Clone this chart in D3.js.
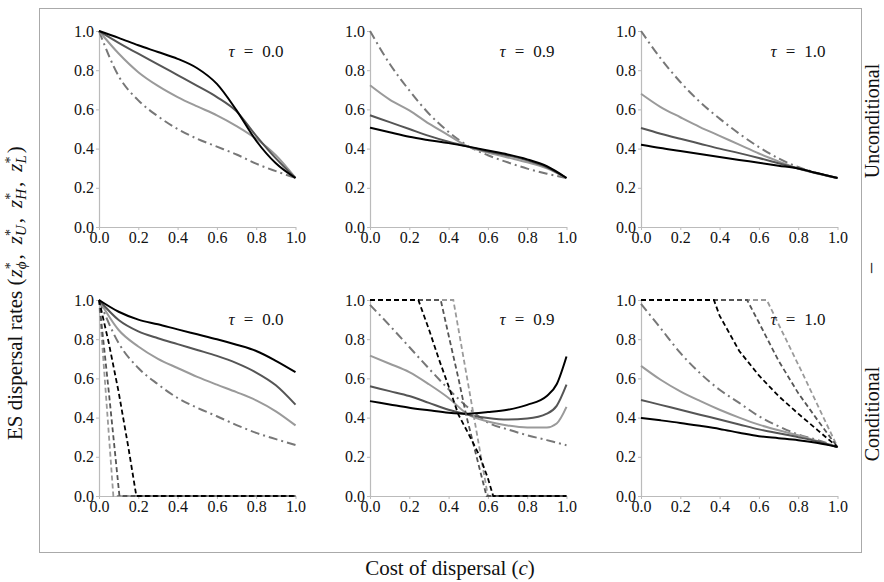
<!DOCTYPE html>
<html><head><meta charset="utf-8">
<script src="https://cdn.jsdelivr.net/npm/d3@7"></script>
<style>
body{margin:0;background:#fff;}
svg{display:block;}
</style>
</head><body>
<svg id="chart" width="884" height="582"></svg>
<script>
// ---------- data ----------
const cGrid = [0, 0.1, 0.2, 0.3, 0.4, 0.5, 0.6, 0.7, 0.8, 0.9, 1.0];
const cGridFine = [0, 0.1, 0.2, 0.3, 0.4, 0.5, 0.6, 0.7, 0.8, 0.9, 0.95, 1.0];
const tickValues = [0, 0.2, 0.4, 0.6, 0.8, 1.0];
const tauLabels = ["0.0", "0.9", "1.0"];
const rowLabels = ["Unconditional", "Conditional"];

// Unconditional, tau = 0.0
const u00Black = [1.0, 0.965, 0.927, 0.893, 0.858, 0.81, 0.73, 0.595, 0.44, 0.325, 0.25];
const u00Dark  = [1.0, 0.94, 0.884, 0.83, 0.775, 0.72, 0.663, 0.59, 0.465, 0.35, 0.25];
const u00Light = [1.0, 0.885, 0.79, 0.72, 0.663, 0.615, 0.57, 0.515, 0.45, 0.366, 0.25];
const u00Phi   = [1.0, 0.77, 0.646, 0.565, 0.50, 0.45, 0.41, 0.37, 0.323, 0.285, 0.25];
// Unconditional, tau = 0.9
const u09Black = [0.507, 0.483, 0.46, 0.443, 0.428, 0.41, 0.39, 0.37, 0.345, 0.31, 0.25];
const u09Dark  = [0.57, 0.535, 0.50, 0.465, 0.435, 0.41, 0.385, 0.365, 0.34, 0.305, 0.25];
const u09Light = [0.723, 0.65, 0.595, 0.527, 0.468, 0.41, 0.38, 0.355, 0.33, 0.30, 0.25];
const u09Phi   = [1.0, 0.833, 0.697, 0.578, 0.485, 0.413, 0.366, 0.33, 0.298, 0.272, 0.25];
// Unconditional, tau = 1.0
const u10Black = [0.42, 0.403, 0.388, 0.372, 0.357, 0.342, 0.328, 0.313, 0.298, 0.274, 0.25];
const u10Dark  = [0.505, 0.476, 0.45, 0.425, 0.40, 0.377, 0.352, 0.325, 0.298, 0.273, 0.25];
const u10Light = [0.68, 0.612, 0.56, 0.51, 0.465, 0.42, 0.375, 0.335, 0.298, 0.272, 0.25];
const u10Phi   = [1.0, 0.86, 0.74, 0.638, 0.553, 0.476, 0.408, 0.35, 0.306, 0.275, 0.25];
// Conditional, tau = 0.0
const c00Black = [1.0, 0.94, 0.90, 0.876, 0.85, 0.825, 0.80, 0.772, 0.74, 0.69, 0.632];
const c00Dark  = [1.0, 0.898, 0.84, 0.805, 0.775, 0.745, 0.715, 0.678, 0.63, 0.565, 0.466];
const c00Light = [1.0, 0.847, 0.763, 0.70, 0.653, 0.608, 0.568, 0.53, 0.488, 0.432, 0.36];
const c00Phi   = [1.0, 0.78, 0.653, 0.57, 0.50, 0.45, 0.407, 0.362, 0.322, 0.29, 0.26];
const c00BlackDashC = [0, 0.05, 0.1, 0.15, 0.19, 1.0];
const c00BlackDashV = [1.0, 0.78, 0.53, 0.245, 0, 0];
const c00DarkDashC  = [0, 0.05, 0.104, 1.0];
const c00DarkDashV  = [1.0, 0.53, 0, 0];
const c00LightDashC = [0, 0.073, 1.0];
const c00LightDashV = [1.0, 0, 0];
// Conditional, tau = 0.9 (fine grid)
const c09Black = [0.484, 0.467, 0.45, 0.437, 0.425, 0.42, 0.428, 0.44, 0.465, 0.51, 0.57, 0.712];
const c09Dark  = [0.56, 0.535, 0.51, 0.475, 0.44, 0.415, 0.398, 0.39, 0.395, 0.42, 0.46, 0.568];
const c09Light = [0.716, 0.675, 0.632, 0.57, 0.50, 0.415, 0.38, 0.36, 0.35, 0.35, 0.37, 0.455];
const c09Phi   = [0.975, 0.87, 0.76, 0.65, 0.545, 0.45, 0.375, 0.34, 0.31, 0.285, 0.272, 0.259];
const c09BlackDashC = [0, 0.246, 0.3, 0.35, 0.4, 0.45, 0.5, 0.56, 0.6, 0.627, 1.0];
const c09BlackDashV = [1.0, 1.0, 0.85, 0.70, 0.56, 0.415, 0.32, 0.2, 0.09, 0, 0];
const c09DarkDashC  = [0, 0.36, 0.4, 0.45, 0.49, 0.55, 0.593, 1.0];
const c09DarkDashV  = [1.0, 1.0, 0.82, 0.6, 0.41, 0.17, 0, 0];
const c09LightDashC = [0, 0.424, 0.6, 1.0];
const c09LightDashV = [1.0, 1.0, 0, 0];
// Conditional, tau = 1.0
const c10Black = [0.398, 0.386, 0.373, 0.358, 0.342, 0.323, 0.305, 0.295, 0.285, 0.27, 0.25];
const c10Dark  = [0.49, 0.465, 0.44, 0.415, 0.39, 0.365, 0.34, 0.32, 0.30, 0.278, 0.25];
const c10Light = [0.664, 0.593, 0.534, 0.485, 0.44, 0.40, 0.364, 0.335, 0.31, 0.28, 0.25];
const c10Phi   = [0.98, 0.856, 0.73, 0.627, 0.542, 0.475, 0.407, 0.356, 0.314, 0.285, 0.25];
const c10BlackDashC = [0, 0.371, 0.4, 0.5, 0.6, 0.7, 0.8, 0.9, 1.0];
const c10BlackDashV = [1.0, 1.0, 0.92, 0.74, 0.615, 0.51, 0.42, 0.335, 0.25];
const c10DarkDashC  = [0, 0.54, 0.6, 0.7, 0.8, 0.9, 1.0];
const c10DarkDashV  = [1.0, 1.0, 0.885, 0.69, 0.525, 0.385, 0.25];
const c10LightDashC = [0, 0.64, 0.82, 1.0];
const c10LightDashV = [1.0, 1.0, 0.63, 0.25];

// ---------- assemble panels ----------
const panels = [
  {row:0, col:0, c:cGrid, black:u00Black, dark:u00Dark, light:u00Light, phi:u00Phi, dashed:[]},
  {row:0, col:1, c:cGrid, black:u09Black, dark:u09Dark, light:u09Light, phi:u09Phi, dashed:[]},
  {row:0, col:2, c:cGrid, black:u10Black, dark:u10Dark, light:u10Light, phi:u10Phi, dashed:[]},
  {row:1, col:0, c:cGrid, black:c00Black, dark:c00Dark, light:c00Light, phi:c00Phi,
    dashed:[["light", c00LightDashC, c00LightDashV], ["dark", c00DarkDashC, c00DarkDashV], ["black", c00BlackDashC, c00BlackDashV]]},
  {row:1, col:1, c:cGridFine, black:c09Black, dark:c09Dark, light:c09Light, phi:c09Phi,
    dashed:[["light", c09LightDashC, c09LightDashV], ["dark", c09DarkDashC, c09DarkDashV], ["black", c09BlackDashC, c09BlackDashV]]},
  {row:1, col:2, c:cGrid, black:c10Black, dark:c10Dark, light:c10Light, phi:c10Phi,
    dashed:[["light", c10LightDashC, c10LightDashV], ["dark", c10DarkDashC, c10DarkDashV], ["black", c10BlackDashC, c10BlackDashV]]}
];

// ---------- drawing ----------
const FONT = "'Liberation Serif', 'Times New Roman', Times, serif";
const svg = d3.select("#chart").attr("font-family", FONT);
const colX = [99, 370, 641], rowY = [31, 300];
const pw = 196.5, ph = 196;
const colors = {black:"#000000", dark:"#555555", light:"#9a9a9a", phi:"#777777"};

svg.append("rect").attr("x", 39.5).attr("y", 8.5).attr("width", 822).attr("height", 544)
  .attr("fill", "none").attr("stroke", "#aaaaaa").attr("stroke-width", 1);

panels.forEach(p => {
  const g = svg.append("g").attr("transform", `translate(${colX[p.col]},${rowY[p.row]})`);
  const x = d3.scaleLinear().domain([0, 1]).range([0, pw]);
  const y = d3.scaleLinear().domain([0, 1]).range([ph, 0]);

  const xa = g.append("g").attr("transform", `translate(0,${ph})`)
    .call(d3.axisBottom(x).tickValues(tickValues).tickFormat(d3.format(".1f")).tickSize(3).tickSizeOuter(0).tickPadding(2));
  const ya = g.append("g")
    .call(d3.axisLeft(y).tickValues(tickValues).tickFormat(d3.format(".1f")).tickSize(3).tickSizeOuter(0).tickPadding(2));
  [xa, ya].forEach(a => {
    a.attr("font-family", FONT).attr("font-size", 16);
    a.select(".domain").attr("stroke", "#bbbbbb").attr("stroke-width", 1.2);
    a.selectAll(".tick line").attr("stroke", "#bbbbbb");
    a.selectAll(".tick text").attr("fill", "#111").attr("font-family", FONT).attr("font-size", 16);
  });

  const smooth = d3.line().x(d => x(d[0])).y(d => y(d[1])).curve(d3.curveMonotoneX);
  const straight = d3.line().x(d => x(d[0])).y(d => y(d[1]));

  const solids = [["phi", p.phi, "9,4,2,4"], ["light", p.light, null], ["dark", p.dark, null], ["black", p.black, null]];
  solids.forEach(([k, vals, dash]) => {
    g.append("path").datum(p.c.map((c, i) => [c, vals[i]]))
      .attr("d", smooth).attr("fill", "none")
      .attr("stroke", colors[k]).attr("stroke-width", 2)
      .attr("stroke-dasharray", dash);
  });
  p.dashed.forEach(([k, cs, vs]) => {
    g.append("path").datum(cs.map((c, i) => [c, vs[i]]))
      .attr("d", straight).attr("fill", "none")
      .attr("stroke", colors[k]).attr("stroke-width", 1.8)
      .attr("stroke-dasharray", "5,3");
  });

  const t = g.append("text").attr("x", 157).attr("y", p.row === 0 ? 26 : 25)
    .attr("text-anchor", "middle").attr("font-family", FONT).attr("font-size", 17).attr("fill", "#111");
  t.append("tspan").attr("font-style", "italic").text("τ");
  t.append("tspan").attr("dx", 9).text("=");
  t.append("tspan").attr("dx", 9).text(tauLabels[p.col]);
});

// row labels
const rl = (tx, ty, s) => svg.append("text").attr("transform", `translate(${tx},${ty}) rotate(-90)`)
  .attr("text-anchor", "middle").attr("font-family", FONT).attr("font-size", 20).attr("fill", "#111").text(s);
rl(879, 121, rowLabels[0]);
rl(877, 268, "–");
rl(879, 414, rowLabels[1]);

// x label
const xl = svg.append("text").attr("x", 450).attr("y", 575).attr("text-anchor", "middle")
  .attr("font-family", FONT).attr("font-size", 21).attr("fill", "#111");
xl.append("tspan").text("Cost of dispersal (");
xl.append("tspan").attr("font-style", "italic").text("c");
xl.append("tspan").text(")");

// y label
const yl = svg.append("text").attr("transform", "translate(22,440) rotate(-90)")
  .attr("text-anchor", "start").attr("font-family", FONT).attr("font-size", 21).attr("fill", "#111");
yl.append("tspan").text("ES dispersal rates (");
const subs = ["ϕ", "U", "H", "L"];
subs.forEach((s, i) => {
  yl.append("tspan").attr("font-style", "italic").attr("dx", i === 0 ? 1 : 10).text("z");
  yl.append("tspan").attr("font-size", 14).attr("dy", -7).text("*");
  yl.append("tspan").attr("font-size", 15).attr("font-style", "italic").attr("dx", -7).attr("dy", 11).text(s);
  yl.append("tspan").attr("dy", -4).attr("dx", 2).text(i < subs.length - 1 ? "," : ")");
});
</script>
</body></html>
